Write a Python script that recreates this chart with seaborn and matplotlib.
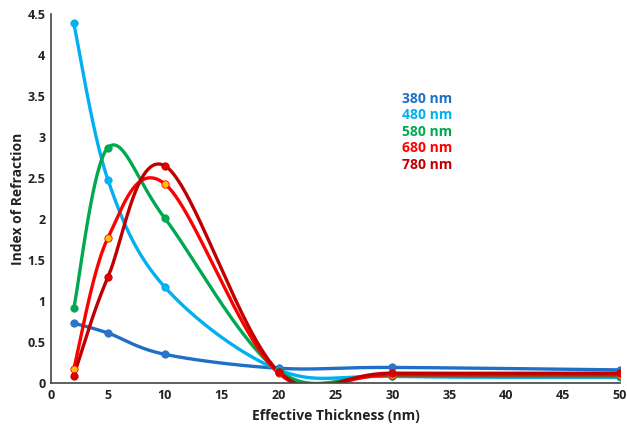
import numpy as np
import pandas as pd
import matplotlib
matplotlib.use("Agg")
import matplotlib.pyplot as plt
import seaborn as sns

thickness = [2, 5, 10, 20, 30, 50]
n380 = [0.73, 0.61, 0.35, 0.18, 0.19, 0.16]
n480 = [4.39, 2.48, 1.17, 0.16, 0.08, 0.07]
n580 = [0.91, 2.87, 2.01, 0.15, 0.09, 0.08]
n680 = [0.17, 1.77, 2.43, 0.12, 0.10, 0.10]
n780 = [0.09, 1.29, 2.65, 0.14, 0.12, 0.12]
labels = ["380 nm", "480 nm", "580 nm", "680 nm", "780 nm"]
series = [n380, n480, n580, n680, n780]
colors = ["#1F6FC6", "#00B0F0", "#00A94F", "#FF0000", "#C00000"]
marker_face = ["#2E75C9", "#00B0F0", "#00A94F", "#FFC000", "#E00000"]

sns.set_theme(style="white")
plt.rcParams['font.family'] = ['Open Sans', 'DejaVu Sans']

fig = plt.figure(figsize=(6.27, 4.25), dpi=100)
ax = fig.add_axes([0.0813, 0.0988, 0.9077, 0.868])

XMAX, YMAX = 50, 4.5
sx = 569 / XMAX   # px per x unit
sy = 369 / YMAX   # px per y unit


def smooth(xs, ys, n=60):
    # Catmull-Rom spline in screen space (like Excel smoothed lines)
    P = np.column_stack([np.array(xs) * sx, np.array(ys) * sy])
    pts = np.vstack([P[0], P, P[-1]])
    out = []
    for i in range(1, len(pts) - 2):
        p0, p1, p2, p3 = pts[i - 1], pts[i], pts[i + 1], pts[i + 2]
        t = np.linspace(0, 1, n)[:, None]
        c1 = p1 + (p2 - p0) / 6
        c2 = p2 - (p3 - p1) / 6
        b = ((1 - t) ** 3) * p1 + 3 * ((1 - t) ** 2) * t * c1 + 3 * (1 - t) * t ** 2 * c2 + t ** 3 * p2
        out.append(b if i == 1 else b[1:])
    out = np.vstack(out)
    return out[:, 0] / sx, out[:, 1] / sy


for lab, ys, c, mf in zip(labels, series, colors, marker_face):
    cx, cy = smooth(thickness, ys)
    df = pd.DataFrame({"x": cx, "y": cy})
    sns.lineplot(data=df, x="x", y="y", sort=False, estimator=None, color=c,
                 linewidth=2.4, ax=ax)
    pdf = pd.DataFrame({"x": thickness, "y": ys})
    sns.scatterplot(data=pdf, x="x", y="y", color=mf, edgecolor=c, linewidth=0.6,
                    s=28, ax=ax, zorder=5)

ax.set_xlim(0, 50)
ax.set_ylim(0, 4.5)
ax.set_xticks(range(0, 51, 5))
yt = np.arange(0, 4.51, 0.5)
ax.set_yticks(yt)
ax.set_yticklabels([f"{v:g}" for v in yt])
for lbl in ax.get_xticklabels() + ax.get_yticklabels():
    lbl.set_fontweight("bold")
    lbl.set_fontsize(9)
    lbl.set_color("#222222")
ax.tick_params(length=0, pad=4)
ax.set_xlabel("Effective Thickness (nm)", fontsize=10, fontweight="bold", color="#222222", labelpad=5)
ax.set_ylabel("Index of Refraction", fontsize=10, fontweight="bold", color="#222222", labelpad=2)
for s in ["top", "right"]:
    ax.spines[s].set_visible(False)
for s in ["left", "bottom"]:
    ax.spines[s].set_color("#444444")
    ax.spines[s].set_linewidth(1.2)

ypos = [0.767, 0.729, 0.689, 0.651, 0.612]
for lab, c, yp in zip(labels, colors, ypos):
    fig.text(0.641, yp, lab, color=c, fontsize=10, fontweight="bold", va="center", ha="left")

fig.savefig("out.png", dpi=100)
